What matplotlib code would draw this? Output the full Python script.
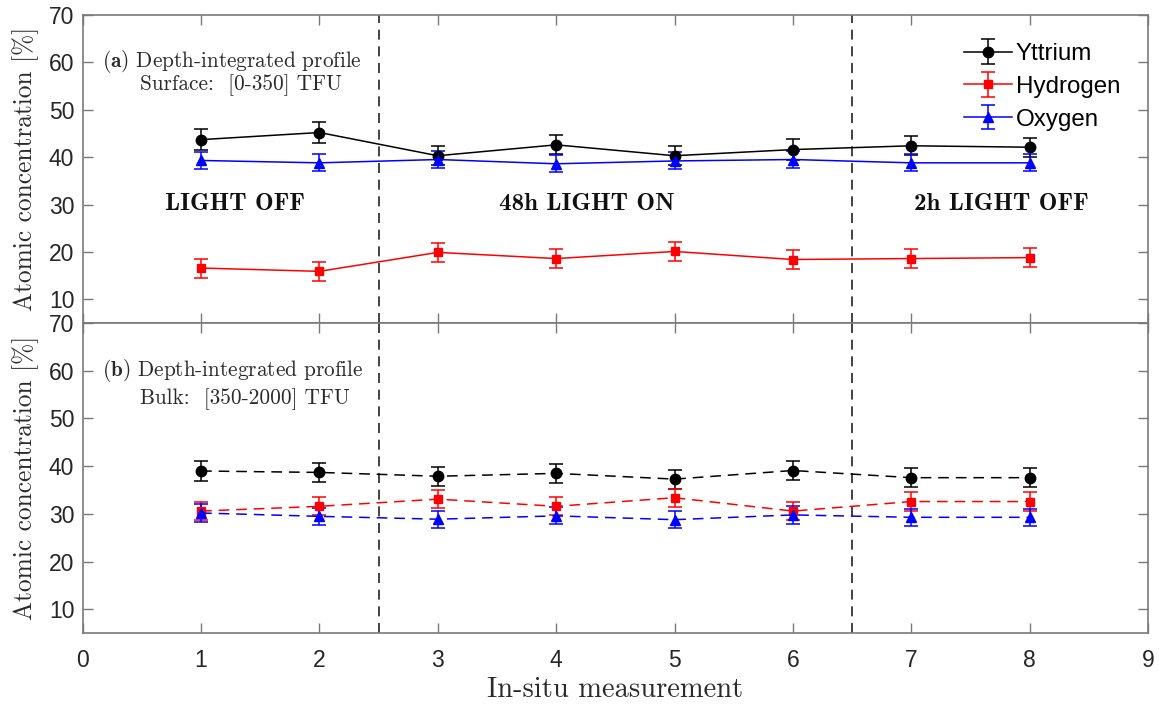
import matplotlib
matplotlib.use("Agg")
import matplotlib.pyplot as plt
import numpy as np

plt.rcParams['mathtext.fontset'] = 'cm'
plt.rcParams['font.family'] = ['Liberation Sans', 'DejaVu Sans']

x = [1, 2, 3, 4, 5, 6, 7, 8]

# Panel (a): surface
y_surf = [43.7, 45.2, 40.3, 42.6, 40.3, 41.6, 42.4, 42.1]
h_surf = [16.6, 15.9, 19.9, 18.6, 20.1, 18.4, 18.6, 18.8]
o_surf = [39.3, 38.8, 39.5, 38.6, 39.2, 39.5, 38.8, 38.8]
y_surf_err = [2.2, 2.2, 2.0, 2.0, 2.0, 2.2, 2.0, 2.0]
h_surf_err = [2.0, 2.0, 2.0, 2.0, 2.0, 2.0, 2.0, 2.0]
o_surf_err = [1.8, 1.8, 1.8, 1.8, 1.8, 1.8, 1.8, 1.8]

# Panel (b): bulk
y_bulk = [39.0, 38.7, 37.9, 38.5, 37.3, 39.1, 37.6, 37.6]
h_bulk = [30.6, 31.6, 33.1, 31.6, 33.4, 30.6, 32.6, 32.6]
o_bulk = [30.2, 29.5, 28.9, 29.6, 28.8, 29.8, 29.3, 29.3]
y_bulk_err = [2.0, 2.0, 2.0, 2.0, 2.0, 2.0, 2.0, 2.0]
h_bulk_err = [1.9, 1.9, 1.9, 1.9, 1.9, 1.9, 1.9, 1.9]
o_bulk_err = [1.8, 1.8, 1.8, 1.8, 1.8, 1.8, 1.8, 1.8]

labels = ['Yttrium', 'Hydrogen', 'Oxygen']
colors = ['black', 'red', 'blue']
markers = ['o', 's', '^']
msizes = [7.5, 6, 7.5]
phase_bounds = [2.5, 6.5]
phase_labels = ['LIGHT OFF', '48h LIGHT ON', '2h LIGHT OFF']
phase_x = [1.29, 4.26, 7.76]

W, H = 1159, 706
fig = plt.figure(figsize=(W / 100, H / 100), dpi=100)
axl, axr = 82.7 / W, 1148 / W
ax1 = fig.add_axes([axl, 1 - 323 / H, axr - axl, (323 - 15) / H])
ax2 = fig.add_axes([axl, 1 - 633.3 / H, axr - axl, (633.3 - 323) / H])

spine_col = '#7a7a7a'
tick_col = '#262626'
serif_col = '#2a2a2a'


def style(ax):
    ax.set_xlim(0, 9)
    ax.set_ylim(5, 70)
    ax.set_xticks(range(0, 10))
    ax.set_yticks(range(10, 71, 10))
    for s in ax.spines.values():
        s.set_color(spine_col)
        s.set_linewidth(1.2)
    ax.tick_params(direction='in', length=7, width=1.0, color=spine_col,
                   labelcolor=tick_col, labelsize=16.5, top=True, right=True)
    ax.tick_params(axis='y', pad=6)
    ax.tick_params(axis='x', pad=11)
    ax.set_ylabel('Atomic concentration [%]', fontfamily='cmr10', fontsize=18.3,
                  color=serif_col, labelpad=7)
    for b in phase_bounds:
        ax.axvline(b, color='#222222', ls=(0, (6, 4)), lw=1.2, zorder=1)


style(ax1)
style(ax2)
ax1.tick_params(labelbottom=False)

series_a = [(y_surf, y_surf_err), (h_surf, h_surf_err), (o_surf, o_surf_err)]
series_b = [(y_bulk, y_bulk_err), (h_bulk, h_bulk_err), (o_bulk, o_bulk_err)]

handles = []
for (vals, err), c, m, ms, lab in zip(series_a, colors, markers, msizes, labels):
    h = ax1.errorbar(x, vals, yerr=err, color=c, marker=m, ms=ms, lw=1.1,
                     capsize=5, elinewidth=1.1, capthick=1.1, label=lab, zorder=3)
    handles.append(h)

for (vals, err), c, m, ms in zip(series_b, colors, markers, msizes):
    eb = ax2.errorbar(x, vals, yerr=err, color=c, marker=m, ms=ms, lw=1.1,
                      capsize=5, elinewidth=1.1, capthick=1.1, zorder=3)
    eb[0].set_linestyle((0, (7, 4.5)))

leg = ax1.legend(handles=handles, loc='upper left',
                 bbox_to_anchor=(964 / W, 1 - 43 / H), bbox_transform=fig.transFigure,
                 frameon=False, fontsize=17.4, handlelength=2.0, handletextpad=0.15,
                 labelspacing=0.45, borderaxespad=0, borderpad=0)

txt_size = 15.3
ax1.text(0.16, 60.1, r'$\mathbf{(a)}$ Depth-integrated profile', fontfamily='cmr10',
         fontsize=txt_size, va='center', ha='left', color=serif_col)
ax1.text(0.48, 55.3, 'Surface:  [0-350] TFU', fontfamily='cmr10',
         fontsize=txt_size, va='center', ha='left', color=serif_col)
ax2.text(0.16, 60.1, r'$\mathbf{(b)}$ Depth-integrated profile', fontfamily='cmr10',
         fontsize=txt_size, va='center', ha='left', color=serif_col)
ax2.text(0.48, 54.1, 'Bulk:  [350-2000] TFU', fontfamily='cmr10',
         fontsize=txt_size, va='center', ha='left', color=serif_col)

for px, pl in zip(phase_x, phase_labels):
    ax1.text(px, 30.2, pl, fontfamily='cmb10', fontsize=18, ha='center',
             va='center', color='#111111')

ax2.set_xlabel('In-situ measurement', fontfamily='cmr10', fontsize=20.5,
               color=serif_col, labelpad=4)

fig.savefig('out.png', dpi=100)
